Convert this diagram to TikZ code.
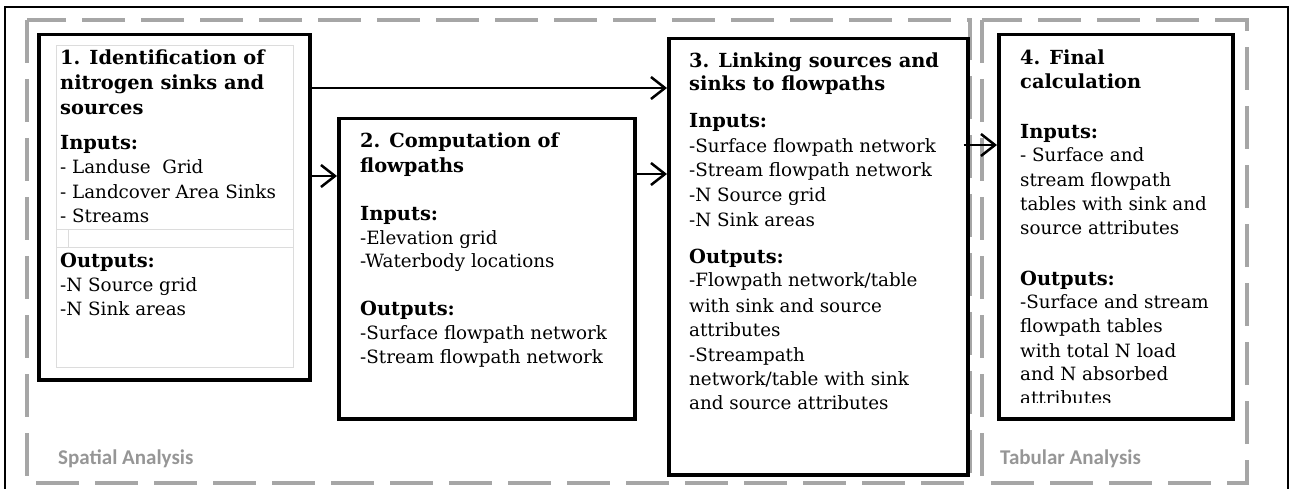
\documentclass[tikz,border=0pt]{standalone}
\usepackage{fontspec}
\setmainfont{DejaVu Serif}
\newfontfamily\labfont{Carlito}
\usetikzlibrary{arrows.meta}
\definecolor{dashgray}{RGB}{166,166,166}
\definecolor{labgray}{RGB}{150,150,150}
\definecolor{cellgray}{RGB}{220,220,220}
\tikzset{
  stepbox/.style={draw=black, line width=3.5pt, rectangle, inner sep=0pt, anchor=north west},
  grpbox/.style={draw=dashgray, line width=4pt, dash pattern=on 43pt off 16pt},
  txt/.style={anchor=base west, inner sep=0pt, font=\fontsize{18.3}{24}\selectfont},
  hd/.style={txt, font=\fontsize{19.4}{24}\selectfont\bfseries},
  grplab/.style={anchor=base west, inner sep=0pt, text=labgray, font=\labfont\bfseries\fontsize{21}{24}\selectfont},
  arr/.style={line width=2.5pt, -{Straight Barb[length=14pt,width=22pt,line width=2.5pt]}},
}
\begin{document}
\begin{tikzpicture}[x=1pt,y=-1pt]
\useasboundingbox (0,0) rectangle (1296,489);
% outer frame
\draw[line width=1.5pt] (5,495) -- (5,7) -- (1288,7) -- (1288,495);
% group frames
\draw[grpbox] (27,20) rectangle (970,483);
\draw[grpbox] (982,20) rectangle (1247,483);
\node[grplab] (lsp) at (58,464) {Spatial Analysis};
\node[grplab] (ltab) at (1000,464) {Tabular Analysis};
% step boxes
\node[stepbox, minimum width=271pt, minimum height=345pt] (b1) at (37,33) {};
\node[stepbox, minimum width=296pt, minimum height=300pt] (b2) at (337,117) {};
\node[stepbox, minimum width=299pt, minimum height=436pt] (b3) at (667,37) {};
\node[stepbox, minimum width=234pt, minimum height=384pt] (b4) at (997,33) {};
% inner cells of box 1
\draw[cellgray, line width=1pt] (56,46) rectangle (293,367);
\draw[cellgray, line width=1pt] (56,230) -- (293,230);
\draw[cellgray, line width=1pt] (56,248) -- (293,248);
\draw[cellgray, line width=1pt] (68,230) -- (68,248);
% box 1 text
\node[hd] (t1a) at (60,65) {1. Identification of};
\node[hd] (t1b) at (60,90) {nitrogen sinks and};
\node[hd] (t1c) at (60,115) {sources};
\node[hd] (t1d) at (60,150) {Inputs:};
\node[txt] (t1e) at (60,174) {- Landuse\ \ Grid};
\node[txt] (t1f) at (60,199) {- Landcover Area Sinks};
\node[txt] (t1g) at (60,223) {- Streams};
\node[hd] (t1h) at (60,267) {Outputs:};
\node[txt] (t1i) at (60,291) {-N Source grid};
\node[txt] (t1j) at (60,315) {-N Sink areas};
% box 2 text
\node[hd] (t2a) at (360,148) {2. Computation of};
\node[hd] (t2b) at (360,173) {flowpaths};
\node[hd] (t2c) at (360,221) {Inputs:};
\node[txt] (t2d) at (360,245) {-Elevation grid};
\node[txt] (t2e) at (360,268) {-Waterbody locations};
\node[hd] (t2f) at (360,315) {Outputs:};
\node[txt] (t2g) at (360,339) {-Surface flowpath network};
\node[txt] (t2h) at (360,363) {-Stream flowpath network};
% box 3 text
\node[hd] (t3a) at (689,68) {3. Linking sources and};
\node[hd] (t3b) at (689,91) {sinks to flowpaths};
\node[hd] (t3c) at (689,128) {Inputs:};
\node[txt] (t3d) at (689,153) {-Surface flowpath network};
\node[txt] (t3e) at (689,177) {-Stream flowpath network};
\node[txt] (t3f) at (689,202) {-N Source grid};
\node[txt] (t3g) at (689,226) {-N Sink areas};
\node[hd] (t3h) at (689,263) {Outputs:};
\node[txt] (t3i) at (689,287) {-Flowpath network/table};
\node[txt] (t3j) at (689,312) {with sink and source};
\node[txt] (t3k) at (689,336) {attributes};
\node[txt] (t3l) at (689,361) {-Streampath};
\node[txt] (t3m) at (689,385) {network/table with sink};
\node[txt] (t3n) at (689,409) {and source attributes};
% box 4 text
\node[hd] (t4a) at (1020,65) {4. Final};
\node[hd] (t4b) at (1020,89) {calculation};
\node[hd] (t4c) at (1020,139) {Inputs:};
\node[txt] (t4d) at (1020,162) {- Surface and};
\node[txt] (t4e) at (1020,187) {stream flowpath};
\node[txt] (t4f) at (1020,211) {tables with sink and};
\node[txt] (t4g) at (1020,235) {source attributes};
\node[hd] (t4h) at (1020,285) {Outputs:};
\node[txt] (t4i) at (1020,308) {-Surface and stream};
\node[txt] (t4j) at (1020,332) {flowpath tables};
\node[txt] (t4k) at (1020,357) {with total N load};
\node[txt] (t4l) at (1020,380) {and N absorbed};
\begin{scope}
\clip (1000,380) rectangle (1228,402);
\node[txt] (t4m) at (1020,404) {attributes};
\end{scope}
% arrows
\draw[arr] (b1.east |- 0,88) -- (b3.west |- 0,88);
\draw[arr] (b1.east |- 0,176) -- (b2.west |- 0,176);
\draw[arr] (b2.east |- 0,174) -- (b3.west |- 0,174);
\draw[arr] ([xshift=-6pt]b3.east |- 0,145) -- (b4.west |- 0,145);
\end{tikzpicture}
\end{document}
